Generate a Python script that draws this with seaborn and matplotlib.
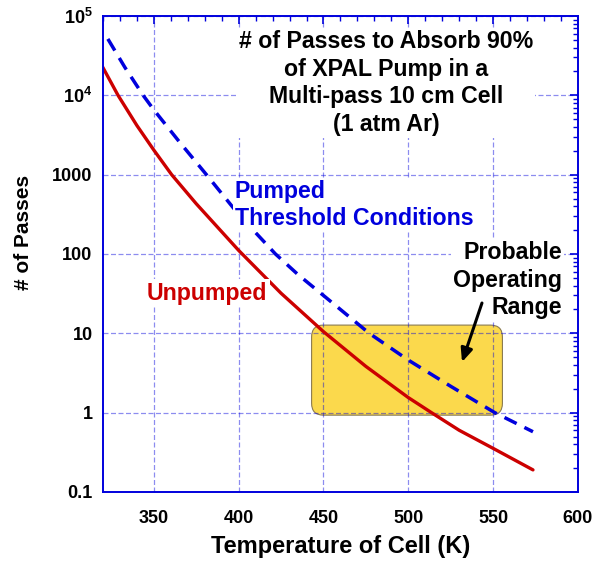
import numpy as np
import pandas as pd
import matplotlib
matplotlib.use("Agg")
import matplotlib.pyplot as plt
import seaborn as sns
from matplotlib.patches import FancyBboxPatch
from matplotlib.ticker import FixedLocator, FixedFormatter, LogLocator, NullFormatter, MultipleLocator

# ---- data ----
unpumped_T = [319.6, 328.9, 340, 350, 360.5, 375, 400, 425, 450, 475, 500, 513.7, 530, 550, 573.5]
unpumped_N = [23200, 10000, 4170, 2040, 1000, 430, 111, 32, 10.5, 3.83, 1.55, 1.0, 0.60, 0.355, 0.19]
pumped_T = [322.9, 333, 343.7, 350, 365, 381, 400, 421.7, 435, 450, 477, 500, 525, 551, 573.5]
pumped_N = [51400, 22400, 10000, 6560, 2600, 1000, 315, 100, 55, 30, 10, 4.6, 2.15, 1.0, 0.575]
range_T = [443, 555.5]
range_N = [0.93, 12.7]
xticks = [350, 400, 450, 500, 550, 600]
yticks = [0.1, 1, 10, 100, 1000, 1e4, 1e5]
yticklabels = ["0.1", "1", "10", "100", "1000", r"$10^{4}$", r"$10^{5}$"]

sns.set_style("white")
plt.rcParams["font.family"] = ["Liberation Sans", "DejaVu Sans"]
plt.rcParams["font.weight"] = "bold"
plt.rcParams["text.color"] = "black"
plt.rcParams["axes.labelcolor"] = "black"
plt.rcParams["mathtext.fontset"] = "custom"
plt.rcParams["mathtext.rm"] = "Liberation Sans:bold"
plt.rcParams["mathtext.default"] = "rm"
plt.rcParams["axes.axisbelow"] = "line"

df = pd.concat([
    pd.DataFrame({"T": unpumped_T, "N": unpumped_N, "s": "Unpumped"}),
    pd.DataFrame({"T": pumped_T, "N": pumped_N, "s": "Pumped"}),
])

fig = plt.figure(figsize=(6.02, 5.61), dpi=100)
ax = fig.add_axes([0.171, 0.123, 0.789, 0.8485])

blue = "#0000DD"
red = "#CC0000"
sns.lineplot(data=df[df.s == "Unpumped"], x="T", y="N", color=red, lw=2.4, ax=ax, zorder=2)
sns.lineplot(data=df[df.s == "Pumped"], x="T", y="N", color=blue, lw=2.5, ax=ax, zorder=2)
ax.lines[-1].set_dashes([3.9, 2.5])

ax.set_yscale("log")
ax.set_xlim(320, 600)
ax.set_ylim(0.1, 1e5)

ax.xaxis.set_major_locator(FixedLocator(xticks))
ax.xaxis.set_minor_locator(MultipleLocator(10))
ax.yaxis.set_major_locator(FixedLocator(yticks))
ax.yaxis.set_major_formatter(FixedFormatter(yticklabels))
ax.yaxis.set_minor_locator(LogLocator(base=10, subs=np.arange(2, 10)))
ax.yaxis.set_minor_formatter(NullFormatter())

for s in ax.spines.values():
    s.set_color(blue)
    s.set_linewidth(1.4)
ax.tick_params(which="both", direction="in", color=blue, top=True, right=True,
               labelsize=13, labelcolor="black")
ax.tick_params(axis="x", which="major", pad=13)
ax.tick_params(axis="y", which="major", pad=7.5)
ax.tick_params(which="major", length=6, width=1.2)
ax.tick_params(which="minor", length=3.5, width=1.0)
ax.grid(True, which="major", color=blue, alpha=0.45, ls=(0, (4, 2)), lw=0.9)

ax.set_xlabel("Temperature of Cell (K)", fontsize=17, fontweight="bold", labelpad=6)
ax.set_ylabel("# of Passes", fontsize=15, fontweight="bold")
ax.yaxis.set_label_coords(-0.147, 0.546)

# operating range box
fig.canvas.draw()
p0 = ax.transAxes.inverted().transform(ax.transData.transform((range_T[0], range_N[0])))
p1 = ax.transAxes.inverted().transform(ax.transData.transform((range_T[1], range_N[1])))
box = FancyBboxPatch((p0[0], p0[1]), p1[0] - p0[0], p1[1] - p0[1],
                     boxstyle="round,pad=0,rounding_size=0.025", transform=ax.transAxes,
                     facecolor="#FBD94C", edgecolor="#8A7A50", lw=0.8, zorder=1)
ax.add_patch(box)

wb = dict(facecolor="white", edgecolor="none", pad=1.5)
ax.text(0.596, 0.859, "# of Passes to Absorb 90%\nof XPAL Pump in a\nMulti-pass 10 cm Cell\n(1 atm Ar)",
        transform=ax.transAxes, ha="center", va="center", fontsize=16.7, fontweight="bold",
        linespacing=1.26, bbox=wb, zorder=3)
ax.text(0.278, 0.603, "Pumped\nThreshold Conditions", transform=ax.transAxes, ha="left",
        va="center", fontsize=16.7, fontweight="bold", color=blue, linespacing=1.2,
        bbox=wb, zorder=3)
ax.text(0.093, 0.418, "Unpumped", transform=ax.transAxes, ha="left", va="center",
        fontsize=16.7, fontweight="bold", color=red, bbox=wb, zorder=3)
ax.text(0.966, 0.445, "Probable\nOperating\nRange", transform=ax.transAxes, ha="right",
        va="center", fontsize=16.7, fontweight="bold", color="black", linespacing=1.26,
        bbox=wb, zorder=3)
ax.annotate("", xy=(0.756, 0.273), xytext=(0.798, 0.397), xycoords="axes fraction",
            arrowprops=dict(arrowstyle="-|>,head_length=0.8,head_width=0.35", color="black",
                            lw=2.2, shrinkA=0, shrinkB=0), zorder=3)

fig.savefig("out.png", dpi=100)
